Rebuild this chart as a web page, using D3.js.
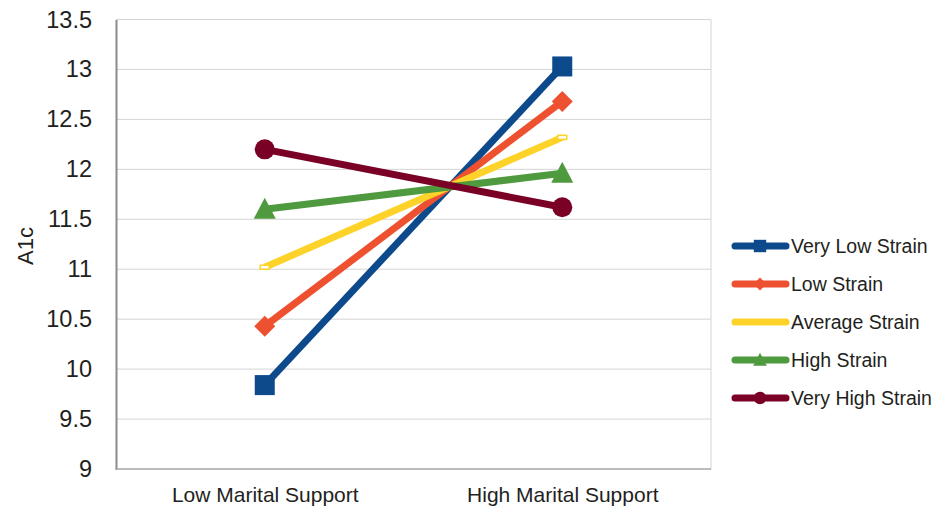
<!DOCTYPE html>
<html>
<head>
<meta charset="utf-8">
<script src="https://cdn.jsdelivr.net/npm/d3@7"></script>
<style>
  html, body { margin: 0; padding: 0; background: #fff; }
  svg { display: block; font-family: "Liberation Sans", Arial, sans-serif; }
</style>
</head>
<body>
<svg id="chart" width="939" height="508"></svg>
<script>
// A1c by marital support, one line per strain level
const categories = ["Low Marital Support", "High Marital Support"];
const seriesNames = ["Very Low Strain", "Low Strain", "Average Strain", "High Strain", "Very High Strain"];
const veryLowStrain = [9.84, 13.03];
const lowStrain = [10.43, 12.68];
const averageStrain = [11.02, 12.32];
const highStrain = [11.6, 11.96];
const veryHighStrain = [12.2, 11.62];
const yTicks = [9, 9.5, 10, 10.5, 11, 11.5, 12, 12.5, 13, 13.5];

const seriesValues = [veryLowStrain, lowStrain, averageStrain, highStrain, veryHighStrain];
const colors = ["#0d4a8c", "#ee5130", "#fdd32a", "#4f9a3f", "#7a0026"];
const markers = ["square", "diamond", "dash", "triangle", "circle"];

const FONT = "Liberation Sans, Arial, sans-serif";
const svg = d3.select("#chart");
const plotLeft = 116, plotRight = 711, plotTop = 19.5, plotBottom = 469;

const x = d3.scalePoint().domain(categories).range([plotLeft, plotRight]).padding(0.5);
const y = d3.scaleLinear().domain([9, 13.5]).range([plotBottom, plotTop]);

// gridlines
svg.append("g").selectAll("line").data(yTicks.slice(1)).join("line")
  .attr("x1", plotLeft).attr("x2", plotRight)
  .attr("y1", d => y(d)).attr("y2", d => y(d))
  .attr("stroke", "#d4d4d4").attr("stroke-width", 1);

// right frame edge
svg.append("line").attr("x1", plotRight).attr("x2", plotRight).attr("y1", plotTop).attr("y2", plotBottom)
  .attr("stroke", "#d4d4d4").attr("stroke-width", 1);

// y axis
const yAxis = d3.axisLeft(y).tickValues(yTicks).tickSize(0).tickPadding(24)
  .tickFormat(d => String(d));
const gy = svg.append("g").attr("transform", `translate(${plotLeft},0)`).call(yAxis);
gy.attr("font-family", FONT);
gy.select(".domain").attr("stroke", "#8c8c8c").attr("stroke-width", 2);
gy.selectAll("text").attr("font-size", 23.5).attr("fill", "#231f20");

// x axis
const xAxis = d3.axisBottom(x).tickSize(0).tickPadding(18.5);
const gx = svg.append("g").attr("transform", `translate(0,${plotBottom})`).call(xAxis);
gx.attr("font-family", FONT);
gx.select(".domain").attr("d", `M${plotLeft - 1},0H${plotRight}`).attr("stroke", "#a6a6a6").attr("stroke-width", 1.5);
gx.selectAll("text").attr("font-size", 21).attr("fill", "#231f20");

// y axis title
svg.append("text").attr("transform", "translate(33,246) rotate(-90)")
  .attr("text-anchor", "middle").attr("font-size", 22).attr("fill", "#231f20").text("A1c");

function drawMarker(g, type, cx, cy, color, s) {
  if (type === "square") {
    g.append("rect").attr("x", cx - 10 * s).attr("y", cy - 10 * s)
      .attr("width", 20 * s).attr("height", 20 * s).attr("fill", color);
  } else if (type === "diamond") {
    const r = 10.5 * s;
    g.append("path").attr("d", `M${cx},${cy - r}L${cx + r},${cy}L${cx},${cy + r}L${cx - r},${cy}Z`).attr("fill", color);
  } else if (type === "triangle") {
    const r = 11 * s;
    g.append("path").attr("d", `M${cx},${cy - r * 1.05}L${cx + r},${cy + r * 0.85}L${cx - r},${cy + r * 0.85}Z`).attr("fill", color);
  } else if (type === "circle") {
    g.append("circle").attr("cx", cx).attr("cy", cy).attr("r", 10 * s).attr("fill", color);
  } else if (type === "dash") {
    g.append("rect").attr("x", cx - 4.5 * s).attr("y", cy - 2 * s)
      .attr("width", 9 * s).attr("height", 4 * s)
      .attr("fill", "#fff").attr("stroke", color).attr("stroke-width", 1.5 * s);
  }
}

const line = d3.line().x((d, i) => x(categories[i])).y(d => y(d));

seriesValues.forEach((vals, k) => {
  const g = svg.append("g");
  g.append("path").datum(vals).attr("d", line)
    .attr("fill", "none").attr("stroke", colors[k]).attr("stroke-width", 7)
    .attr("stroke-linejoin", "round");
  vals.forEach((v, i) => drawMarker(g, markers[k], x(categories[i]), y(v), colors[k], 1));
});

// legend
const legend = svg.append("g");
seriesNames.forEach((name, k) => {
  const ly = 246 + k * 38;
  const g = legend.append("g");
  g.append("line").attr("x1", 735).attr("x2", 786).attr("y1", ly).attr("y2", ly)
    .attr("stroke", colors[k]).attr("stroke-width", 7).attr("stroke-linecap", "round");
  if (markers[k] !== "dash") drawMarker(g, markers[k], 760, ly, colors[k], 0.62);
  g.append("text").attr("x", 791).attr("y", ly).attr("dy", "0.36em")
    .attr("font-size", 19.5).attr("fill", "#231f20").text(name);
});
</script>
</body>
</html>
